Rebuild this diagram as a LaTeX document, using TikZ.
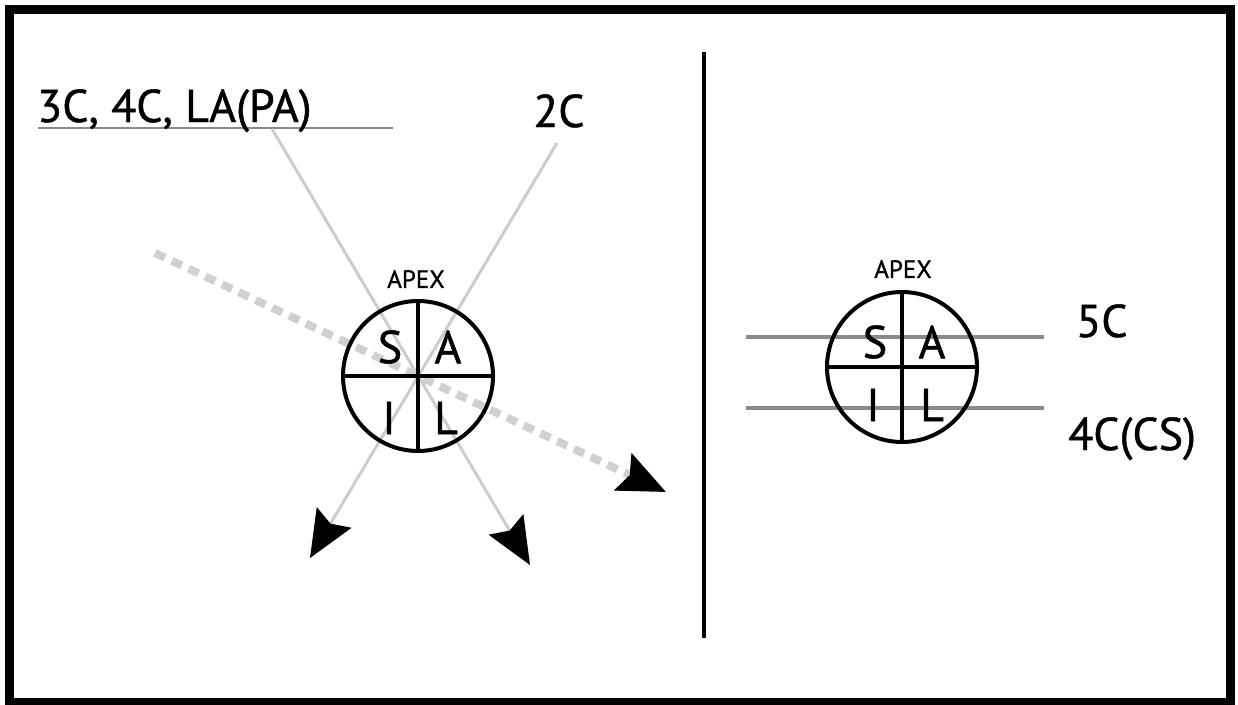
\documentclass[tikz,border=0pt]{standalone}
\usepackage{fontspec}
\setmainfont{PT Sans}
\newfontfamily\heavy{PT Sans}[BoldFont=PT Sans, BoldFeatures={FakeBold=1}]
\usetikzlibrary{arrows.meta}
\definecolor{lightg}{HTML}{CCCCCC}
\definecolor{dashg}{HTML}{D0D0D0}
\definecolor{midg}{HTML}{8A8A8A}
\tikzset{
  big/.style={font=\heavy\bfseries\fontsize{46}{52}\selectfont, inner sep=0pt},
  small/.style={font=\heavy\bfseries\fontsize{25}{29}\selectfont, inner sep=0pt},
  sail/.style={circle, draw=black, line width=4pt, minimum size=150pt, inner sep=0pt},
  quad/.style={line width=4pt, black},
  ray/.style={lightg, line width=3pt},
  bigtip/.style={-{Stealth[length=47pt, width=40pt, inset=7pt, color=black]}},
  dashray/.style={dashg, line width=8pt, dash pattern=on 11pt off 7.5pt},
  band/.style={midg, line width=3.5pt}
}
\begin{document}
\begin{tikzpicture}[x=1pt,y=-1pt]
\useasboundingbox (0,0) rectangle (1238,704);
\draw[line width=9pt] (9.5,9.5) rectangle (1230,702);

% divider
\coordinate (dtop) at (704,52);
\coordinate (dbot) at (704,638);
\draw[line width=4pt] (dtop) -- (dbot);

% left part
\coordinate (lc) at (418,376);
\coordinate (r1s) at (272,129);
\coordinate (r1e) at (530,565);
\coordinate (r2s) at (557,143);
\coordinate (r2e) at (310,558);
\coordinate (ds) at (155,253);
\coordinate (de) at (666,492);
\coordinate (uls) at (38,128);
\coordinate (ule) at (393,128);

\draw[midg, line width=2pt] (uls) -- (ule);
\node[big, anchor=base west] (lab3) at (37,122) {3C, 4C, LA(PA)};
\node[big, anchor=base west] (lab2) at (533,127) {2C};

\draw[ray, bigtip] (r1s) -- (r1e);
\draw[ray, bigtip] (r2s) -- (r2e);
\draw[dashray, bigtip] (ds) -- (de);

\node[sail] (cl) at (lc) {};
\draw[quad] (cl.north) -- (cl.south);
\draw[quad] (cl.west) -- (cl.east);
\node[small] (apl) at (416,279) {APEX};
\node[big] (sl) at (390,347) {S};
\node[big] (al) at (448,347) {A};
\node[big] (il) at (389,418) {I};
\node[big] (ll) at (446,418) {L};

% right part
\coordinate (rc) at (902,367);
\coordinate (b1s) at (746,337);
\coordinate (b1e) at (1044,337);
\coordinate (b2s) at (746,408);
\coordinate (b2e) at (1044,408);
\draw[band] (b1s) -- (b1e);
\draw[band] (b2s) -- (b2e);
\node[sail] (cr) at (rc) {};
\draw[quad] (cr.north) -- (cr.south);
\draw[quad] (cr.west) -- (cr.east);
\node[small] (apr) at (903,269) {APEX};
\node[big] (sr) at (875,342) {S};
\node[big] (ar) at (932,342) {A};
\node[big] (ir) at (873,405) {I};
\node[big] (lr) at (932,405) {L};

\node[big, anchor=base west] (l5) at (1076,337) {5C};
\node[big, anchor=base west] (l4) at (1068,450) {4C(CS)};
\end{tikzpicture}
\end{document}
